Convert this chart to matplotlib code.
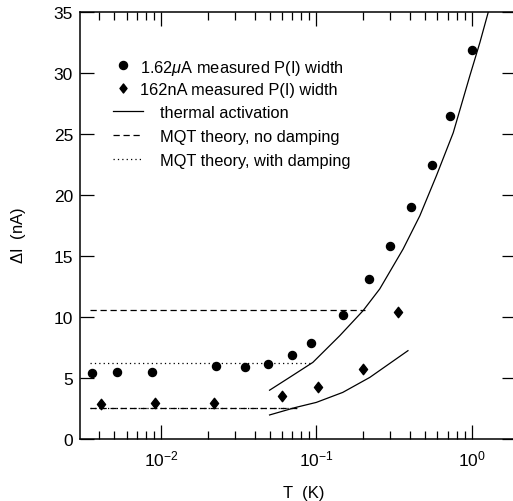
import numpy as np
import matplotlib
matplotlib.use("Agg")
import matplotlib.pyplot as plt
from matplotlib.path import Path

plt.rcParams['font.family'] = ['Liberation Sans', 'DejaVu Sans']
plt.rcParams['mathtext.fontset'] = 'custom'
plt.rcParams['mathtext.rm'] = 'Liberation Sans'
plt.rcParams['mathtext.it'] = 'Liberation Sans:italic'

# 1.62 uA measured P(I) width
t_big = [0.0036, 0.0052, 0.0087, 0.0226, 0.0348, 0.0488, 0.0697, 0.093,
         0.148, 0.219, 0.30, 0.405, 0.553, 0.727, 1.0]
w_big = [5.4, 5.5, 5.5, 6.0, 5.9, 6.15, 6.9, 7.9,
         10.2, 13.1, 15.85, 19.05, 22.5, 26.5, 31.9]

# 162 nA measured P(I) width
t_small = [0.0041, 0.0092, 0.0221, 0.060, 0.102, 0.20, 0.336]
w_small = [2.87, 2.95, 2.98, 3.5, 4.25, 5.7, 10.4]

# thermal activation curves
t_th_big = [0.05, 0.0673, 0.095, 0.1416, 0.2, 0.256, 0.362, 0.464, 0.594,
            0.761, 0.975, 1.13, 1.28]
w_th_big = [4.0, 5.05, 6.28, 8.47, 10.52, 12.3, 15.57, 18.3, 21.6,
            25.1, 29.8, 32.5, 35.0]
t_th_small = [0.05, 0.0743, 0.1, 0.148, 0.221, 0.389]
w_th_small = [1.97, 2.6, 3.0, 3.82, 5.05, 7.24]

# MQT levels: (start T, end T, width)
mqt_nodamp = [(0.0035, 0.207, 10.57), (0.0035, 0.075, 2.55)]
mqt_damp = [(0.0035, 0.095, 6.23), (0.0035, 0.075, 2.55)]

labels = [r'1.62$\mu$A measured P(I) width', '162nA measured P(I) width',
          'thermal activation', 'MQT theory, no damping',
          'MQT theory, with damping']

diamond = Path([(0, 1), (0.78, 0), (0, -1), (-0.78, 0), (0, 1)],
               [Path.MOVETO, Path.LINETO, Path.LINETO, Path.LINETO, Path.CLOSEPOLY])

fig = plt.figure(figsize=(5.13, 5.02), dpi=100)
ax = fig.add_axes([80 / 513, 62 / 502, 436 / 513, 427 / 502])

lw = 0.9
dash = (5, 3)
dot = (1, 2.5)
ax.plot(t_big, w_big, 'o', color='black', markersize=5.8, linestyle='none')
ax.plot(t_small, w_small, marker=diamond, color='black', markersize=7.5,
        linestyle='none')
ax.plot(t_th_big, w_th_big, '-', color='black', lw=lw)
ax.plot(t_th_small, w_th_small, '-', color='black', lw=lw)
for t0, t1, w in mqt_nodamp:
    ax.plot([t0, t1], [w, w], color='black', lw=lw, dashes=dash)
for t0, t1, w in mqt_damp:
    ax.plot([t0, t1], [w, w], color='black', lw=lw, dashes=dot)

ax.set_xscale('log')
ax.set_xlim(0.00301, 1.93)
ax.set_ylim(0, 35)
ax.set_yticks(np.arange(0, 36, 5))

ax.tick_params(which='both', direction='in', top=True, right=True, width=0.9,
               labelsize=12.5)
ax.tick_params(which='major', length=10)
ax.tick_params(axis='y', which='major', pad=5)
ax.tick_params(axis='x', which='major', pad=7)
ax.tick_params(which='minor', length=6)
ax.tick_params(axis='y', which='minor', left=False, right=False)
for s in ax.spines.values():
    s.set_linewidth(1.1)

ax.set_xlabel('T  (K)', fontsize=12)
ax.xaxis.set_label_coords(0.513, -0.108)
ax.set_ylabel(r'$\Delta$I  (nA)', fontsize=12)
ax.yaxis.set_label_coords(-0.119, 0.48)

# legend, laid out by hand in axes fraction
def fx(px):
    return (px - 80) / 436

def fy(py):
    return (440 - py) / 427

rows = [66, 89, 112, 136, 160]
tr = ax.transAxes
ax.plot([fx(123)], [fy(rows[0])], 'o', color='black', markersize=5.8, transform=tr)
ax.plot([fx(123)], [fy(rows[1])], marker=diamond, color='black', markersize=6.5,
        transform=tr)
ax.plot([fx(113), fx(143)], [fy(rows[2])] * 2, color='black', lw=lw, transform=tr)
ax.plot([fx(113), fx(143)], [fy(rows[3])] * 2, color='black', lw=lw, dashes=dash,
        transform=tr)
ax.plot([fx(113), fx(143)], [fy(rows[4])] * 2, color='black', lw=lw, dashes=dot,
        transform=tr)
text_x = [140, 140, 160, 160, 160]
for lab, tx, ry in zip(labels, text_x, rows):
    ax.text(fx(tx), fy(ry), lab, transform=tr, fontsize=11.8, va='center_baseline',
            ha='left')

fig.savefig('out.png', dpi=100)
